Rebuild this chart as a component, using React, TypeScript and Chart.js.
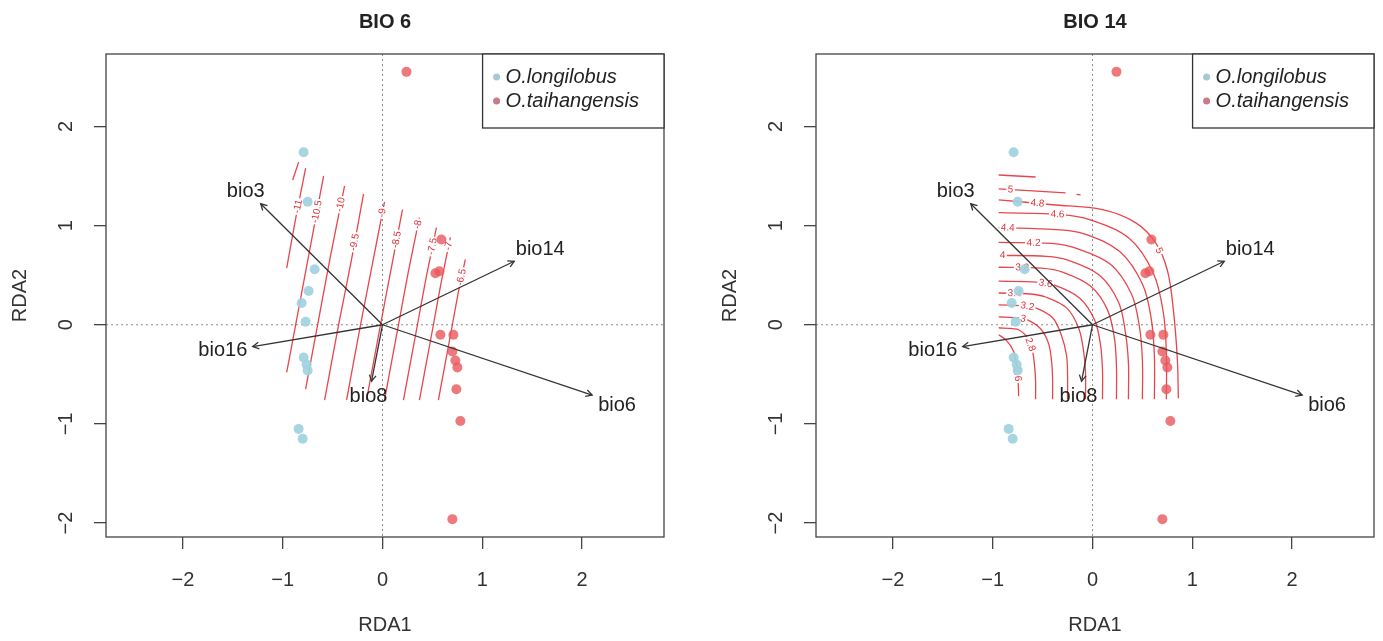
import React, { useEffect, useRef } from "react";
import { Chart, registerables } from "chart.js";
Chart.register(...registerables);

// ---------- axes ----------
const xRange = [-2.77, 2.82];
const yRange = [-2.14, 2.73];
const xTicks = [-2, -1, 0, 1, 2];
const yTicks = [-2, -1, 0, 1, 2];
const xTitle = "RDA1";
const yTitle = "RDA2";

// ---------- sites ----------
const seriesNames = ["O.longilobus", "O.taihangensis"];
const longilobusX = [-0.79, -0.75, -0.68, -0.74, -0.81, -0.77, -0.79, -0.76, -0.75, -0.84, -0.8];
const longilobusY = [1.74, 1.24, 0.56, 0.34, 0.22, 0.03, -0.33, -0.4, -0.46, -1.05, -1.15];
const taihangX = [0.24, 0.59, 0.53, 0.57, 0.58, 0.71, 0.7, 0.73, 0.75, 0.74, 0.78, 0.7];
const taihangY = [2.55, 0.86, 0.52, 0.54, -0.1, -0.1, -0.27, -0.36, -0.43, -0.65, -0.97, -1.96];

// ---------- biplot arrows ----------
const arrowNames = ["bio3", "bio14", "bio16", "bio8", "bio6"];
const arrowX = [-1.22, 1.32, -1.3, -0.11, 2.1];
const arrowY = [1.22, 0.64, -0.22, -0.57, -0.71];
const arrowLabelX = [-1.37, 1.58, -1.6, -0.14, 2.35];
const arrowLabelY = [1.34, 0.76, -0.26, -0.72, -0.81];

// ---------- BIO 6 surface contours ----------
const bio6Levels = ["-11.5", "-11", "-10.5", "-10", "-9.5", "-9", "-8.5", "-8", "-7.5", "-7", "-6.5"];
const bio6LinesX = [
  [-0.84, -0.9],
  [-0.77, -0.87, -0.96],
  [-0.59, -0.73, -0.87, -0.96],
  [-0.38, -0.52, -0.65, -0.77],
  [-0.19, -0.31, -0.44, -0.58],
  [0.02, -0.1, -0.22, -0.36],
  [0.2, 0.09, -0.02, -0.16],
  [0.37, 0.26, 0.16, 0.02],
  [0.54, 0.44, 0.35, 0.21],
  [0.68, 0.59, 0.51, 0.37],
  [0.83, 0.76, 0.7, 0.56],
];
const bio6LinesY = [
  [1.64, 1.46],
  [1.58, 1.07, 0.57],
  [1.5, 0.75, 0, -0.48],
  [1.4, 0.7, 0, -0.65],
  [1.32, 0.66, 0, -0.76],
  [1.24, 0.62, 0, -0.76],
  [1.16, 0.58, 0, -0.76],
  [1.08, 0.54, 0, -0.76],
  [0.98, 0.49, 0, -0.76],
  [0.88, 0.44, 0, -0.76],
  [0.66, 0.33, 0, -0.76],
];
const bio6LabelText = ["-11", "-10.5", "-10", "-9.5", "-9", "-8.5", "-8", "-7.5", "-7", "-6.5"];
const bio6LabelLine = [1, 2, 3, 4, 5, 6, 7, 8, 9, 10];
const bio6LabelSeg = [0, 0, 0, 0, 0, 0, 0, 0, 0, 0];
const bio6LabelT = [0.76, 0.48, 0.27, 0.74, 0.18, 0.52, 0.13, 0.39, 0.2, 0.55];

// ---------- BIO 14 surface contours ----------
const bio14Levels = ["5.2", "5", "5", "4.8", "4.6", "4.4", "4.2", "4", "3.8", "3.6", "3.4", "3.2", "3", "2.8", "2.6"];
const bio14LinesX = [
  [-0.94, -0.57],
  [-0.94, -0.6, -0.27],
  [-0.16, -0.12],
  [-0.94, -0.4, 0.1, 0.43, 0.63, 0.75, 0.81, 0.85, 0.86],
  [-0.94, -0.32, -0.03, 0.37, 0.61, 0.71, 0.74, 0.74],
  [-0.94, -0.37, -0.09, 0.27, 0.5, 0.59, 0.62, 0.62],
  [-0.94, -0.41, -0.16, 0.18, 0.39, 0.47, 0.5, 0.5],
  [-0.94, -0.46, -0.24, 0.07, 0.26, 0.33, 0.36, 0.36],
  [-0.94, -0.51, -0.3, -0.02, 0.15, 0.22, 0.24, 0.24],
  [-0.94, -0.56, -0.38, -0.13, 0.02, 0.08, 0.1, 0.1],
  [-0.94, -0.62, -0.47, -0.26, -0.14, -0.09, -0.07, -0.07],
  [-0.94, -0.69, -0.57, -0.4, -0.31, -0.26, -0.25, -0.25],
  [-0.94, -0.74, -0.65, -0.52, -0.44, -0.41, -0.4, -0.4],
  [-0.94, -0.8, -0.74, -0.65, -0.6, -0.58, -0.57, -0.57],
  [-0.94, -0.86, -0.79, -0.76, -0.745, -0.74],
];
const bio14LinesY = [
  [1.51, 1.49],
  [1.37, 1.35, 1.33],
  [1.315, 1.31],
  [1.26, 1.21, 1.16, 1.03, 0.83, 0.55, 0.15, -0.35, -0.74],
  [1.13, 1.11, 1.06, 0.87, 0.52, 0.12, -0.28, -0.75],
  [0.98, 0.96, 0.92, 0.74, 0.41, 0.05, -0.32, -0.75],
  [0.83, 0.82, 0.77, 0.61, 0.31, -0.02, -0.36, -0.75],
  [0.7, 0.69, 0.65, 0.5, 0.23, -0.08, -0.39, -0.75],
  [0.58, 0.57, 0.53, 0.39, 0.15, -0.14, -0.42, -0.75],
  [0.44, 0.43, 0.4, 0.27, 0.05, -0.2, -0.46, -0.75],
  [0.32, 0.31, 0.28, 0.17, -0.03, -0.26, -0.48, -0.75],
  [0.2, 0.19, 0.17, 0.07, -0.11, -0.31, -0.51, -0.75],
  [0.08, 0.07, 0.05, -0.04, -0.19, -0.37, -0.54, -0.75],
  [-0.03, -0.04, -0.05, -0.13, -0.27, -0.42, -0.57, -0.75],
  [-0.1, -0.16, -0.27, -0.42, -0.58, -0.72],
];
const bio14LabelText = ["5", "4.8", "4.6", "4.4", "4.2", "4", "3.8", "3.6", "3.4", "3.2", "3", "2.8", "2.6", "5"];
const bio14LabelLine = [1, 3, 4, 5, 6, 7, 8, 9, 10, 11, 12, 13, 14, 3];
const bio14LabelSeg = [0, 0, 0, 0, 0, 0, 0, 1, 0, 1, 1, 3, 3, 4];
const bio14LabelT = [0.35, 0.72, 0.95, 0.16, 0.66, 0.08, 0.55, 0.5, 0.5, 0.3, 0.5, 0.5, 0.5, 0.3];

// ---------- style ----------
const FONT = "'Liberation Sans', Arial, Helvetica, sans-serif";
const INK = "#333333";
const BLUE = "rgba(160,210,224,0.92)";
const RED = "rgba(232,88,92,0.8)";
const LEG_BLUE = "#a7c9d1";
const LEG_RED = "#c97b88";
const CONTOUR = "rgba(226,38,46,0.85)";

type Panel = {
  title: string;
  linesX: number[][];
  linesY: number[][];
  labelText: string[];
  labelLine: number[];
  labelSeg: number[];
  labelT: number[];
  tension: number;
  padRight: number;
};

const panels: Panel[] = [
  {
    title: "BIO 6",
    linesX: bio6LinesX,
    linesY: bio6LinesY,
    labelText: bio6LabelText,
    labelLine: bio6LabelLine,
    labelSeg: bio6LabelSeg,
    labelT: bio6LabelT,
    tension: 0.2,
    padRight: 36,
  },
  {
    title: "BIO 14",
    linesX: bio14LinesX,
    linesY: bio14LinesY,
    labelText: bio14LabelText,
    labelLine: bio14LabelLine,
    labelSeg: bio14LabelSeg,
    labelT: bio14LabelT,
    tension: 0.35,
    padRight: 9,
  },
];

const N_ARROWS = arrowNames.length;
const FIRST_CONTOUR = N_ARROWS + 2;

function decorPlugin(p: Panel) {
  return {
    id: "rdaDecor",
    beforeDatasetsDraw(chart: any) {
      const { ctx, chartArea: a, scales } = chart;
      const x0 = scales.x.getPixelForValue(0);
      const y0 = scales.y.getPixelForValue(0);
      ctx.save();
      ctx.strokeStyle = "#8c8c8c";
      ctx.lineWidth = 1;
      ctx.setLineDash([2, 3]);
      ctx.beginPath();
      ctx.moveTo(x0, a.top);
      ctx.lineTo(x0, a.bottom);
      ctx.moveTo(a.left, y0);
      ctx.lineTo(a.right, y0);
      ctx.stroke();
      ctx.restore();
    },
    afterDatasetDraw(chart: any, args: any) {
      if (args.index !== FIRST_CONTOUR) return;
      const { ctx, scales } = chart;
      ctx.save();
      ctx.font = `10px ${FONT}`;
      ctx.textAlign = "center";
      ctx.textBaseline = "middle";
      p.labelText.forEach((txt, i) => {
        const li = p.labelLine[i];
        const s = p.labelSeg[i];
        const t = p.labelT[i];
        const xs = p.linesX[li];
        const ys = p.linesY[li];
        const ax = scales.x.getPixelForValue(xs[s]);
        const ay = scales.y.getPixelForValue(ys[s]);
        const bx = scales.x.getPixelForValue(xs[s + 1]);
        const by = scales.y.getPixelForValue(ys[s + 1]);
        const px = ax + (bx - ax) * t;
        const py = ay + (by - ay) * t;
        let ang = Math.atan2(by - ay, bx - ax);
        if (ang > Math.PI / 2) ang -= Math.PI;
        if (ang < -Math.PI / 2) ang += Math.PI;
        ctx.save();
        ctx.translate(px, py);
        ctx.rotate(ang);
        const w = ctx.measureText(txt).width + 3;
        ctx.fillStyle = "#ffffff";
        ctx.fillRect(-w / 2, -4, w, 8);
        ctx.fillStyle = "rgba(220,40,48,0.95)";
        ctx.fillText(txt, 0, 0);
        ctx.restore();
      });
      ctx.restore();
    },
    afterDatasetsDraw(chart: any) {
      const { ctx, chartArea: a, scales } = chart;
      const sx = scales.x;
      const sy = scales.y;
      ctx.save();
      // arrow heads
      ctx.strokeStyle = INK;
      ctx.lineWidth = 1.3;
      arrowNames.forEach((_, i) => {
        const x0 = sx.getPixelForValue(0);
        const y0 = sy.getPixelForValue(0);
        const x1 = sx.getPixelForValue(arrowX[i]);
        const y1 = sy.getPixelForValue(arrowY[i]);
        const ang = Math.atan2(y1 - y0, x1 - x0);
        const L = 7;
        ctx.beginPath();
        ctx.moveTo(x1 - L * Math.cos(ang - 0.5), y1 - L * Math.sin(ang - 0.5));
        ctx.lineTo(x1, y1);
        ctx.lineTo(x1 - L * Math.cos(ang + 0.5), y1 - L * Math.sin(ang + 0.5));
        ctx.stroke();
      });
      // arrow labels
      ctx.fillStyle = "#222";
      ctx.font = `20px ${FONT}`;
      ctx.textAlign = "center";
      ctx.textBaseline = "middle";
      arrowNames.forEach((n, i) => {
        ctx.fillText(n, sx.getPixelForValue(arrowLabelX[i]), sy.getPixelForValue(arrowLabelY[i]));
      });
      // box
      ctx.strokeStyle = "#444";
      ctx.lineWidth = 1.3;
      ctx.strokeRect(a.left, a.top, a.right - a.left, a.bottom - a.top);
      // y tick labels (rotated, R style)
      ctx.fillStyle = INK;
      ctx.font = `20px ${FONT}`;
      yTicks.forEach((v) => {
        const py = sy.getPixelForValue(v);
        ctx.save();
        ctx.translate(a.left - 40, py);
        ctx.rotate(-Math.PI / 2);
        ctx.fillText(v < 0 ? "\u2212" + Math.abs(v) : String(v), 0, 0);
        ctx.restore();
      });
      // title
      ctx.font = `bold 20px ${FONT}`;
      ctx.fillStyle = "#222";
      ctx.fillText(p.title, (a.left + a.right) / 2, 22);
      // legend
      ctx.font = `italic 20px ${FONT}`;
      const w = Math.max(...seriesNames.map((n) => ctx.measureText(n).width));
      const right = a.right;
      const left = right - w - 48;
      const top = a.top;
      const bottom = top + 74;
      ctx.fillStyle = "#fff";
      ctx.fillRect(left, top, right - left, bottom - top);
      ctx.strokeStyle = "#333";
      ctx.lineWidth = 1.3;
      ctx.strokeRect(left, top, right - left, bottom - top);
      const cols = [LEG_BLUE, LEG_RED];
      seriesNames.forEach((n, i) => {
        const yy = top + 23 + i * 24;
        ctx.fillStyle = cols[i];
        ctx.beginPath();
        ctx.arc(left + 14, yy, 3.5, 0, Math.PI * 2);
        ctx.fill();
        ctx.fillStyle = "#222";
        ctx.textAlign = "left";
        ctx.fillText(n, left + 23, yy);
      });
      ctx.restore();
    },
  };
}

function buildConfig(p: Panel): any {
  const arrowSets = arrowNames.map((n, i) => ({
    label: n,
    data: [
      { x: 0, y: 0 },
      { x: arrowX[i], y: arrowY[i] },
    ],
    showLine: true,
    borderColor: INK,
    borderWidth: 1.3,
    pointRadius: 0,
    fill: false,
  }));
  const pointSets = [
    {
      label: seriesNames[0],
      data: longilobusX.map((x, i) => ({ x, y: longilobusY[i] })),
      backgroundColor: BLUE,
      borderWidth: 0,
      pointRadius: 5,
    },
    {
      label: seriesNames[1],
      data: taihangX.map((x, i) => ({ x, y: taihangY[i] })),
      backgroundColor: RED,
      borderWidth: 0,
      pointRadius: 5,
    },
  ];
  const contourSets = p.linesX.map((xs, i) => ({
    label: "contour " + i,
    data: xs.map((x, j) => ({ x, y: p.linesY[i][j] })),
    showLine: true,
    borderColor: CONTOUR,
    borderWidth: 1.3,
    pointRadius: 0,
    tension: p.tension,
    fill: false,
  }));
  const tickFmt = (v: any) => (v < 0 ? "\u2212" + Math.abs(v) : String(v));
  return {
    type: "scatter",
    data: { datasets: [...arrowSets, ...pointSets, ...contourSets] },
    options: {
      responsive: false,
      animation: false,
      devicePixelRatio: 1,
      events: [],
      layout: { padding: { top: 54, right: p.padRight, bottom: 0, left: 0 } },
      plugins: { legend: { display: false }, tooltip: { enabled: false }, title: { display: false } },
      scales: {
        x: {
          type: "linear",
          min: xRange[0],
          max: xRange[1],
          afterBuildTicks: (s: any) => {
            s.ticks = xTicks.map((v) => ({ value: v }));
          },
          afterFit: (s: any) => {
            s.height = 104;
          },
          border: { display: false },
          grid: { drawOnChartArea: false, drawTicks: true, tickLength: 12, color: "#444", lineWidth: 1.3 },
          ticks: { font: { size: 20, family: FONT }, color: INK, padding: 19, callback: tickFmt, maxRotation: 0 },
          title: { display: true, text: xTitle, font: { size: 20, family: FONT }, color: INK, padding: { top: 0, bottom: 4 } },
        },
        y: {
          type: "linear",
          min: yRange[0],
          max: yRange[1],
          afterBuildTicks: (s: any) => {
            s.ticks = yTicks.map((v) => ({ value: v }));
          },
          afterFit: (s: any) => {
            s.width = 106;
          },
          border: { display: false },
          grid: { drawOnChartArea: false, drawTicks: true, tickLength: 12, color: "#444", lineWidth: 1.3 },
          ticks: { display: false },
          title: { display: true, text: yTitle, font: { size: 20, family: FONT }, color: INK, padding: { top: 8, bottom: 0 } },
        },
      },
    },
    plugins: [decorPlugin(p)],
  };
}

export default function App() {
  const leftRef = useRef<HTMLCanvasElement>(null);
  const rightRef = useRef<HTMLCanvasElement>(null);
  useEffect(() => {
    const c1 = new Chart(leftRef.current as HTMLCanvasElement, buildConfig(panels[0]));
    const c2 = new Chart(rightRef.current as HTMLCanvasElement, buildConfig(panels[1]));
    return () => {
      c1.destroy();
      c2.destroy();
    };
  }, []);
  return (
    <div style={{ position: "fixed", left: 0, top: 0, width: 1383, height: 641, background: "#fff" }}>
      <canvas ref={leftRef} width={700} height={641} style={{ position: "absolute", left: 0, top: 0 }} />
      <canvas ref={rightRef} width={673} height={641} style={{ position: "absolute", left: 710, top: 0 }} />
    </div>
  );
}
